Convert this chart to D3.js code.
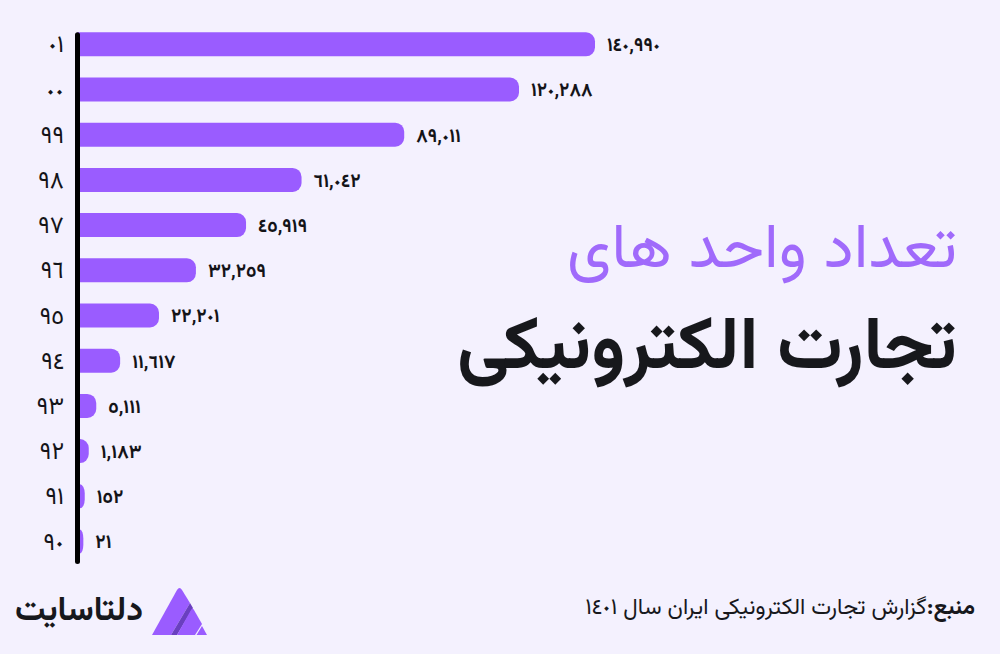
<!DOCTYPE html>
<html>
<head>
<meta charset="utf-8">
<script src="https://cdn.jsdelivr.net/npm/d3@7/dist/d3.min.js"></script>
<style>
  html, body { margin: 0; padding: 0; background: #f4f1fe; }
  svg { display: block; }
  text { font-family: "Vazirmatn", "DejaVu Sans", sans-serif; }
</style>
</head>
<body>
<svg id="chart" width="1000" height="654"></svg>
<script>
// ---- data ----
const years = ["٠١", "٠٠", "٩٩", "٩٨", "٩٧", "٩٦", "٩٥", "٩٤", "٩٣", "٩٢", "٩١", "٩٠"];
const values = [140990, 120288, 89011, 61042, 45919, 32259, 22201, 11617, 5111, 1183, 152, 21];
const titleLine1 = "تعداد واحد های";
const titleLine2 = "تجارت الکترونیکی";
const sourceLabel = "منبع:";
const sourceText = "گزارش تجارت الکترونیکی ایران سال ١٤٠١";
const brandName = "دلتاسایت";

// ---- helpers ----
const arabicDigits = "٠١٢٣٤٥٦٧٨٩";
const toArabic = s => String(s).replace(/[0-9]/g, d => arabicDigits[+d]);
const fmt = v => toArabic(d3.format(",")(v));

const W = 1000, H = 654;
const svg = d3.select("#chart");
svg.append("rect").attr("width", W).attr("height", H).attr("fill", "#f4f1fe");

const barColor = "#9a5cff";
const x0 = 77.5;
const x = d3.scaleLinear().domain([0, d3.max(values)]).range([x0, 595]);
const y = d3.scaleBand().domain(years).range([11.1, 574.7]).padding(0.469);

const data = years.map((yr, i) => ({ yr, v: values[i] }));

// bars with rounded right end
function barRight(d) {
  const w0 = x(d.v) - x0;
  return x0 + Math.max(w0, 5 + Math.sqrt(w0) * 3);
}
function barPath(d) {
  const left = x0, right = barRight(d);
  const top = y(d.yr), bot = top + y.bandwidth();
  const rx = Math.min(9, right - 80), ry = 9;
  return `M${left},${top} H${right - rx} A${rx},${ry} 0 0 1 ${right},${top + ry}` +
         ` V${bot - ry} A${rx},${ry} 0 0 1 ${right - rx},${bot} H${left} Z`;
}

svg.append("g").selectAll("path").data(data).join("path")
  .attr("d", barPath).attr("fill", barColor);

// value labels
svg.append("g").selectAll("text").data(data).join("text")
  .attr("x", d => barRight(d) + 12)
  .attr("y", d => y(d.yr) + y.bandwidth() / 2)
  .attr("dy", "0.36em")
  .attr("direction", "ltr")
  .attr("font-size", 19)
  .attr("font-weight", "bold")
  .attr("fill", "#141418")
  .text(d => fmt(d.v));

// axis line
svg.append("line")
  .attr("x1", x0).attr("x2", x0)
  .attr("y1", y(years[0]) + 2.5)
  .attr("y2", y(years[years.length - 1]) + y.bandwidth() + 8)
  .attr("stroke", "#000").attr("stroke-width", 5).attr("stroke-linecap", "round");

// year axis
const yAxis = svg.append("g")
  .attr("transform", `translate(${x0},0)`)
  .call(d3.axisLeft(y).tickSize(0).tickPadding(13.5));
yAxis.select(".domain").remove();
yAxis.selectAll("text")
  .attr("font-size", 24)
  .attr("dy", "0.34em")
  .attr("fill", "#141418")
  .attr("direction", "ltr")
  .style("font-family", "'Vazirmatn','DejaVu Sans',sans-serif");

// fit helper
function fitWidth(sel, target, base) {
  sel.attr("font-size", base);
  const w = sel.node().getComputedTextLength();
  sel.attr("font-size", base * target / w);
}

// titles
const t1 = svg.append("text")
  .attr("x", 957).attr("y", 267)
  .attr("text-anchor", "start").attr("direction", "rtl")
  .attr("fill", "#a06afb").attr("font-weight", "normal")
  .text(titleLine1);
fitWidth(t1, 390, 50);

const t2 = svg.append("text")
  .attr("x", 957).attr("y", 368)
  .attr("text-anchor", "start").attr("direction", "rtl")
  .attr("fill", "#17181c").attr("font-weight", "bold")
  .text(titleLine2);
fitWidth(t2, 500, 56);

// source
const src = svg.append("text")
  .attr("x", 975).attr("y", 614)
  .attr("text-anchor", "start").attr("direction", "rtl")
  .attr("fill", "#17181c");
src.append("tspan").attr("font-weight", "bold").text(sourceLabel);
src.append("tspan").text(sourceText);
fitWidth(src, 390, 17);

// brand
const brand = svg.append("text")
  .attr("x", 143).attr("y", 620)
  .attr("text-anchor", "start").attr("direction", "rtl")
  .attr("fill", "#17181c").attr("font-weight", "bold")
  .text(brandName);
fitWidth(brand, 128, 30);

// logo icon
const logo = svg.append("g");
logo.append("path").attr("d", "M152,635 L177,590 Q179.5,586 182,590 L190,603 L171,635 Z").attr("fill", "#9a5cff");
logo.append("path").attr("d", "M171,635 L190,603 L193,608 L177,635 Z").attr("fill", "#6a3fc0");
logo.append("path").attr("d", "M177,635 L191,610 Q192.5,607.5 194,610 L202,624 L195,635 Z").attr("fill", "#9a5cff");
logo.append("path").attr("d", "M196.5,635 L202,626 L207,635 Z").attr("fill", "#9a5cff");
</script>
</body>
</html>
